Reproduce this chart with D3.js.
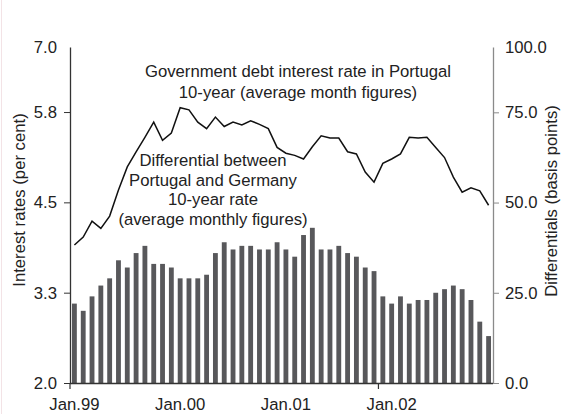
<!DOCTYPE html>
<html>
<head>
<meta charset="utf-8">
<script src="https://cdn.jsdelivr.net/npm/d3@7"></script>
<style>
  html, body { margin: 0; padding: 0; background: #fff; }
  svg { display: block; font-family: "Liberation Sans", Arial, Helvetica, sans-serif; }
</style>
</head>
<body>
<svg id="chart" width="561" height="414"></svg>
<script>
// ---- data ----
const months = d3.range(48).map(i => {
  const y = 1999 + Math.floor(i / 12), m = i % 12;
  return (m === 0 ? "Jan." : "M" + (m + 1) + ".") + String(y).slice(2);
});
const xLabels = ["Jan.99", "Jan.00", "Jan.01", "Jan.02"];
const xLabelIdx = [0, 12, 24, 36];
const xTickIdx = [0, 35];

// Differential Portugal - Germany, basis points (bars, right axis)
const differential = [22,20,24,27,29,34,32,36,38,33,33,32,
                      29,29,29,30,36,39,37,38,38,37,37,39,
                      37,35,41,43,37,37,38,36,35,32,31,24,
                      22,24,22,23,23,25,26,27,26,23,17,13];
// Portugal 10-year government bond yield, per cent (line, left axis)
const rate = [3.91,4.02,4.24,4.14,4.31,4.67,4.99,5.20,5.40,5.61,5.36,5.46,
              5.81,5.78,5.61,5.52,5.68,5.55,5.61,5.57,5.63,5.58,5.52,5.26,
              5.18,5.15,5.10,5.27,5.42,5.39,5.39,5.20,5.17,4.92,4.78,5.04,
              5.10,5.17,5.40,5.39,5.40,5.26,5.12,4.85,4.64,4.70,4.66,4.46];

const leftTicks = [2.0, 3.25, 4.5, 5.75];
const leftTickLabels = ["2.0", "3.3", "4.5", "5.8"];
const leftTopLabel = "7.0";
const rightTicks = [0, 25, 50, 75];
const rightTickLabels = ["0.0", "25.0", "50.0", "75.0"];
const rightTopLabel = "100.0";

const lineTitle = ["Government debt interest rate in Portugal", "10-year (average month figures)"];
const barTitle = ["Differential between", "Portugal and Germany", "10-year rate", "(average monthly figures)"];
const leftTitle = "Interest rates (per cent)";
const rightTitle = "Differentials (basis points)";

// ---- layout ----
const L = 70, R = 493, T = 47, B = 383;
const FS = 16.7;
const txt = "#222";

const svg = d3.select("#chart");

// faint left border
svg.append("line").attr("x1", 1.5).attr("x2", 1.5).attr("y1", 0).attr("y2", 414)
  .attr("stroke", "#f3e3e6").attr("stroke-width", 1);

const x = d3.scaleBand().domain(months).range([L, R]).paddingInner(0.45).paddingOuter(0.225);
// 1.25 per ~90px: top of axis corresponds to ~6.65 / ~93.1
const yL = d3.scaleLinear().domain([2.0, 6.65]).range([B, T]);
const yR = d3.scaleLinear().domain([0, 93.1]).range([B, T]);

// bars
svg.append("g").selectAll("rect").data(differential).join("rect")
  .attr("x", (d, i) => x(months[i]))
  .attr("width", x.bandwidth())
  .attr("y", d => yR(d))
  .attr("height", d => B - yR(d))
  .attr("fill", "#58585b");

// line
const line = d3.line()
  .x((d, i) => x(months[i]) + x.bandwidth() / 2)
  .y(d => yL(d));
svg.append("path").datum(rate)
  .attr("d", line).attr("fill", "none")
  .attr("stroke", "#111").attr("stroke-width", 1.5).attr("stroke-linejoin", "miter");

// left axis
const gL = svg.append("g").attr("transform", `translate(${L},0)`)
  .call(d3.axisLeft(yL).tickValues(leftTicks)
    .tickFormat((d, i) => leftTickLabels[i]).tickSize(6).tickPadding(7).tickSizeOuter(0));
gL.select(".domain").attr("stroke", "#333").attr("stroke-width", 1.3);
gL.selectAll(".tick line").attr("stroke", "#333");
gL.selectAll("text").attr("font-size", FS).attr("fill", txt).attr("font-family", null);
svg.append("text").attr("x", L - 13).attr("y", T).attr("dy", "0.35em")
  .attr("text-anchor", "end").attr("font-size", FS).attr("fill", txt).text(leftTopLabel);

// right axis
const gR = svg.append("g").attr("transform", `translate(${R},0)`)
  .call(d3.axisRight(yR).tickValues(rightTicks)
    .tickFormat((d, i) => rightTickLabels[i]).tickSize(6).tickPadding(6).tickSizeOuter(0));
gR.select(".domain").attr("stroke", "#8a8a8a").attr("stroke-width", 1.3);
gR.selectAll(".tick line").attr("stroke", "#8a8a8a");
gR.selectAll("text").attr("font-size", FS).attr("fill", txt).attr("font-family", null);
svg.append("text").attr("x", R + 12).attr("y", T).attr("dy", "0.35em")
  .attr("text-anchor", "start").attr("font-size", FS).attr("fill", txt).text(rightTopLabel);

// bottom axis: labels
const gB = svg.append("g").attr("transform", `translate(0,${B})`)
  .call(d3.axisBottom(x).tickValues(xLabelIdx.map(i => months[i]))
    .tickFormat((d, i) => xLabels[i]).tickSize(0).tickPadding(15).tickSizeOuter(0));
gB.select(".domain").attr("stroke", "#333").attr("stroke-width", 1.3)
  .attr("d", `M${L},0.5H${R}`);
gB.selectAll("text").attr("font-size", FS).attr("fill", txt).attr("font-family", null);
// bottom axis tick marks at month boundaries
const step = x.step(), gap = step * x.paddingInner();
svg.append("g").selectAll("line").data(xTickIdx).join("line")
  .attr("x1", i => i === 0 ? L : x(months[i]) - gap / 2)
  .attr("x2", i => i === 0 ? L : x(months[i]) - gap / 2)
  .attr("y1", B).attr("y2", B + 6)
  .attr("stroke", "#333").attr("stroke-width", 1.2);

// annotations
svg.append("text").attr("text-anchor", "middle").attr("font-size", FS).attr("fill", txt)
  .selectAll("tspan").data(lineTitle).join("tspan")
  .attr("x", 298).attr("y", (d, i) => 77 + i * 21).text(d => d);
svg.append("text").attr("text-anchor", "middle").attr("font-size", FS).attr("fill", txt)
  .selectAll("tspan").data(barTitle).join("tspan")
  .attr("x", 213).attr("y", (d, i) => 166 + i * 19.7).text(d => d);

// axis titles
svg.append("text").attr("transform", `translate(19,200) rotate(-90)`)
  .attr("text-anchor", "middle").attr("dy", "0.35em")
  .attr("font-size", FS).attr("fill", txt).text(leftTitle);
svg.append("text").attr("transform", `translate(551,201) rotate(-90)`)
  .attr("text-anchor", "middle").attr("dy", "0.35em")
  .attr("font-size", FS).attr("fill", txt).text(rightTitle);
</script>
</body>
</html>
